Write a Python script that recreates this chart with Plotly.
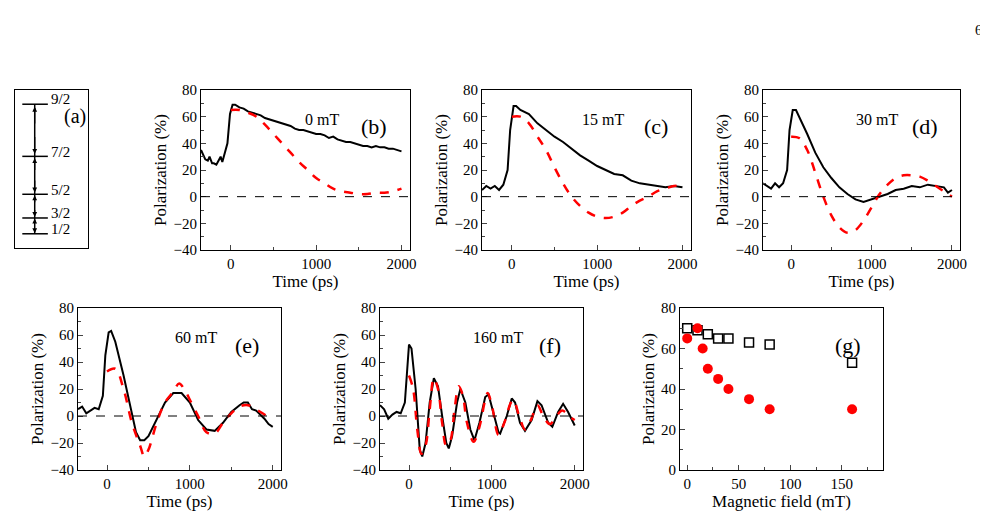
import plotly.graph_objects as go

W, H = 988, 517
FONT = "Liberation Serif"

# ---- data ----
# (b) 0 mT
b_t = [-350, -320, -300, -270, -250, -220, -200, -170, -150, -120, -100, -70, -40, -10, 20, 50, 100, 150, 200, 250, 300, 350, 400, 450,
       500, 550, 600, 650, 700, 750, 800, 850, 900, 950, 1000, 1050, 1100, 1150, 1200, 1250, 1300, 1350, 1400, 1450, 1500,
       1550, 1600, 1650, 1700, 1750, 1800, 1850, 1900, 1950, 2000]
b_exp = [35, 31, 28, 27, 30, 25, 25, 24, 26, 30, 26, 33, 40, 62, 69, 69, 67, 66, 64, 63, 62, 61, 59, 58,
         57, 56, 55, 54, 53, 51, 50, 50, 49, 48, 47, 47, 46, 44, 45, 43, 42, 41, 41, 40, 39,
         38, 38, 37, 38, 37, 37, 36, 36, 35, 34]
b_fit_t = [0, 100, 200, 300, 400, 500, 600, 700, 800, 900, 1000, 1100, 1200, 1300, 1400, 1500, 1600, 1700, 1800, 1900, 2000]
b_fit = [65, 65, 63, 60, 54, 47, 40, 33, 26, 20, 14, 10, 6, 4, 3, 2, 2, 3, 3, 4, 6]

# (c) 15 mT
c_t = [-350, -300, -250, -200, -150, -100, -50, -20, 20, 50, 100, 200, 300, 400, 500, 600, 700, 800, 900, 1000,
       1100, 1200, 1300, 1400, 1500, 1600, 1700, 1800, 1900, 2000]
c_exp = [5, 8, 6, 8, 5, 9, 20, 50, 68, 68, 65, 62, 55, 50, 45, 41, 36, 31, 27, 23,
         20, 17, 16, 12, 10, 9, 8, 7, 8, 7]
c_fit_t = [0, 100, 200, 300, 400, 500, 600, 700, 800, 900, 1000, 1100, 1200, 1300, 1400, 1500, 1600, 1700, 1800, 1900, 2000]
c_fit = [60, 60, 55, 45, 35, 22, 10, 0, -7, -12, -15, -16, -15, -12, -7, -3, 0, 4, 6, 8, 8]

# (d) 30 mT
d_t = [-350, -300, -250, -200, -150, -100, -50, -20, 20, 60, 100, 200, 300, 400, 500, 600, 700, 800, 900, 1000,
       1100, 1200, 1300, 1400, 1500, 1600, 1700, 1800, 1900, 1950, 2000]
d_exp = [10, 8, 6, 10, 7, 10, 20, 50, 65, 65, 60, 47, 33, 22, 14, 7, 2, -2, -4, -2,
         0, 2, 5, 6, 8, 7, 9, 8, 7, 3, 5]
d_fit_t = [0, 100, 200, 300, 400, 500, 600, 700, 800, 900, 1000, 1100, 1200, 1300, 1400, 1500, 1600, 1700, 1800, 1900, 2000]
d_fit = [45, 44, 35, 18, 0, -14, -23, -27, -25, -18, -8, 2, 9, 14, 16, 16, 15, 12, 8, 4, 0]

# (e) 60 mT
e_t = [-350, -300, -250, -200, -150, -100, -50, -20, 20, 50, 100, 200, 300, 350, 400, 450, 500, 600, 700, 800, 900,
       1000, 1100, 1200, 1300, 1400, 1500, 1600, 1650, 1700, 1750, 1800, 1900, 1950, 2000]
e_exp = [5, 7, 2, 4, 6, 5, 15, 45, 62, 63, 55, 30, 2, -12, -18, -18, -15, -3, 10, 17, 17,
         10, -3, -10, -11, -5, 3, 8, 10, 10, 5, 4, -2, -6, -8]
e_fit_t = [0, 100, 200, 300, 400, 450, 500, 600, 700, 800, 870, 950, 1000, 1100, 1200, 1300, 1400, 1500, 1600, 1700, 1800, 1900, 2000]
e_fit = [33, 35, 20, -5, -22, -30, -25, -5, 10, 18, 24, 18, 12, 0, -12, -13, -5, 2, 7, 8, 5, 1, -3]

# (f) 160 mT
f_t = [-350, -300, -250, -200, -150, -100, -50, -20, 0, 30, 80, 130, 160, 200, 250, 300, 350, 400, 450, 480, 520, 580,
       620, 680, 740, 790, 850, 920, 960, 1020, 1080, 1100, 1180, 1240, 1280, 1340, 1400, 1480, 1550, 1600, 1680,
       1730, 1800, 1860, 1920, 2000]
f_exp = [8, 5, -2, 1, 3, 2, 10, 40, 53, 50, 20, -25, -30, -20, 10, 28, 22, 0, -20, -24, -15, 10,
         20, 10, -10, -18, -5, 14, 16, 2, -12, -13, 0, 13, 10, -5, -11, -3, 11, 8, -5,
         -8, 3, 9, 3, -7]
f_fit_t = [0, 50, 100, 150, 200, 250, 300, 350, 400, 450, 500, 550, 600, 650, 700, 780, 850, 920, 950, 1000, 1080,
           1150, 1230, 1260, 1330, 1400, 1470, 1550, 1620, 1700, 1780, 1850, 1950, 2000]
f_fit = [30, 20, -10, -28, -22, 5, 28, 20, -5, -22, -18, 5, 22, 15, -5, -19, -8, 12, 17, 8, -14,
         -5, 10, 12, 0, -10, -3, 8, 0, -6, 0, 4, -1, -3]

# (g) polarization vs field
g_sq_B = [0, 10, 20, 30, 40, 60, 80, 160]
g_sq_P = [70, 69, 67, 65, 65, 63, 62, 53]
g_ci_B = [0, 10, 15, 20, 30, 40, 60, 80, 160]
g_ci_P = [65, 70, 60, 50, 45, 40, 35, 30, 30]

# (a) level scheme
levels = ["9/2", "7/2", "5/2", "3/2", "1/2"]
level_y = [0.91, 0.58, 0.34, 0.19, 0.09]

# ---- layout helpers ----
def dom_x(x0, x1):
    return [x0 / W, x1 / W]

def dom_y(y0, y1):
    return [1 - y1 / H, 1 - y0 / H]

panels = [
    # key, x-pixels, y-pixels, field label, letter
    ("", (193, 402), (82, 242), "0 mT", "(b)"),
    ("2", (474, 683), (82, 242), "15 mT", "(c)"),
    ("3", (755, 952), (82, 242), "30 mT", "(d)"),
    ("4", (70, 273), (300, 462), "60 mT", "(e)"),
    ("5", (372, 575), (300, 462), "160 mT", "(f)"),
]
series = [(b_t, b_exp, b_fit_t, b_fit), (c_t, c_exp, c_fit_t, c_fit), (d_t, d_exp, d_fit_t, d_fit),
          (e_t, e_exp, e_fit_t, e_fit), (f_t, f_exp, f_fit_t, f_fit)]

fig = go.Figure()
layout = dict(width=W, height=H, margin=dict(l=0, r=0, t=0, b=0, pad=0, autoexpand=False), showlegend=False,
              paper_bgcolor="white", plot_bgcolor="white", font=dict(family=FONT, size=15, color="black"))
annotations = []
shapes = []

axis_style = dict(showline=True, linecolor="black", linewidth=1, mirror=True, ticks="inside", ticklen=5,
                  showgrid=False, zeroline=False, tickfont=dict(size=15, family=FONT), automargin=False)

for (key, xp, yp, field, letter), (t, exp, ft, fit) in zip(panels, series):
    xa, ya = "x" + key, "y" + key
    fig.add_trace(go.Scatter(x=t, y=exp, mode="lines", line=dict(color="black", width=2), xaxis=xa, yaxis=ya))
    fig.add_trace(go.Scatter(x=ft, y=fit, mode="lines", line=dict(color="red", width=2.5, dash="dash"),
                             line_shape="spline", xaxis=xa, yaxis=ya))
    layout["xaxis" + key] = dict(axis_style, domain=dom_x(*xp), range=[-350, 2100], anchor=ya,
                                 tickvals=[0, 1000, 2000], minor=dict(ticks="inside", ticklen=3, dtick=500),
                                 title=dict(text="Time (ps)", font=dict(size=17), standoff=4))
    layout["yaxis" + key] = dict(axis_style, domain=dom_y(*yp), range=[-40, 80], anchor=xa,
                                 dtick=20, minor=dict(ticks="inside", ticklen=3, dtick=10),
                                 title=dict(text="Polarization (%)", font=dict(size=17), standoff=2))
    shapes.append(dict(type="line", xref=xa + " domain", yref=ya, x0=0, x1=1, y0=0, y1=0,
                       line=dict(color="black", width=1, dash="dash")))
    annotations.append(dict(text=field, xref=xa + " domain", yref=ya + " domain", x=0.58, y=0.88,
                            showarrow=False, font=dict(size=16)))
    annotations.append(dict(text=letter, xref=xa + " domain", yref=ya + " domain", x=0.9, y=0.86,
                            showarrow=False, font=dict(size=22)))

# (g)
fig.add_trace(go.Scatter(x=g_sq_B, y=g_sq_P, mode="markers", xaxis="x6", yaxis="y6",
                         marker=dict(symbol="square-open", size=9, color="black", line=dict(width=1.5))))
fig.add_trace(go.Scatter(x=g_ci_B, y=g_ci_P, mode="markers", xaxis="x6", yaxis="y6",
                         marker=dict(symbol="circle", size=10, color="red")))
layout["xaxis6"] = dict(axis_style, domain=dom_x(672, 875), range=[-7, 190], anchor="y6", dtick=50,
                        minor=dict(ticks="inside", ticklen=3, dtick=25),
                        title=dict(text="Magnetic field (mT)", font=dict(size=17), standoff=4))
layout["yaxis6"] = dict(axis_style, domain=dom_y(300, 462), range=[0, 80], anchor="x6", dtick=20,
                        minor=dict(ticks="inside", ticklen=3, dtick=10),
                        title=dict(text="Polarization (%)", font=dict(size=17), standoff=2))
annotations.append(dict(text="(g)", xref="x6 domain", yref="y6 domain", x=0.9, y=0.86,
                        showarrow=False, font=dict(size=22)))

# (a) level diagram
for lab, ly in zip(levels, level_y):
    fig.add_trace(go.Scatter(x=[0.1, 0.45], y=[ly, ly], mode="lines", line=dict(color="black", width=1.5),
                             xaxis="x7", yaxis="y7"))
    annotations.append(dict(text=lab, xref="x7", yref="y7", x=0.47, y=ly + 0.03, xanchor="left",
                            showarrow=False, font=dict(size=15)))
fig.add_trace(go.Scatter(x=[0.27, 0.27], y=[level_y[-1], level_y[0]], mode="lines",
                         line=dict(color="black", width=1.5), xaxis="x7", yaxis="y7"))
for hi, lo in zip(level_y[:-1], level_y[1:]):
    for a, b in ((hi, lo), (lo, hi)):
        annotations.append(dict(xref="x7", yref="y7", axref="x7", ayref="y7", x=0.27, y=a - (a - b) * 0.05,
                                ax=0.27, ay=a - (a - b) * 0.4, showarrow=True, arrowhead=2, arrowsize=0.8,
                                arrowwidth=1.2, arrowcolor="black", text=""))
layout["xaxis7"] = dict(domain=dom_x(7, 80), range=[0, 1], anchor="y7", showline=True, mirror=True,
                        linecolor="black", showticklabels=False, ticks="", showgrid=False, zeroline=False,
                        automargin=False)
layout["yaxis7"] = dict(domain=dom_y(82, 240), range=[0, 1], anchor="x7", showline=True, mirror=True,
                        linecolor="black", showticklabels=False, ticks="", showgrid=False, zeroline=False,
                        automargin=False)
annotations.append(dict(text="(a)", xref="x7 domain", yref="y7 domain", x=1.0, y=0.92, xanchor="right",
                        showarrow=False, font=dict(size=20)))

annotations.append(dict(text="6", xref="paper", yref="paper", x=976 / W, y=1 - 13 / H,
                        showarrow=False, font=dict(size=14)))

layout["annotations"] = annotations
layout["shapes"] = shapes
fig.update_layout(**layout)
fig.write_html("out.html")
